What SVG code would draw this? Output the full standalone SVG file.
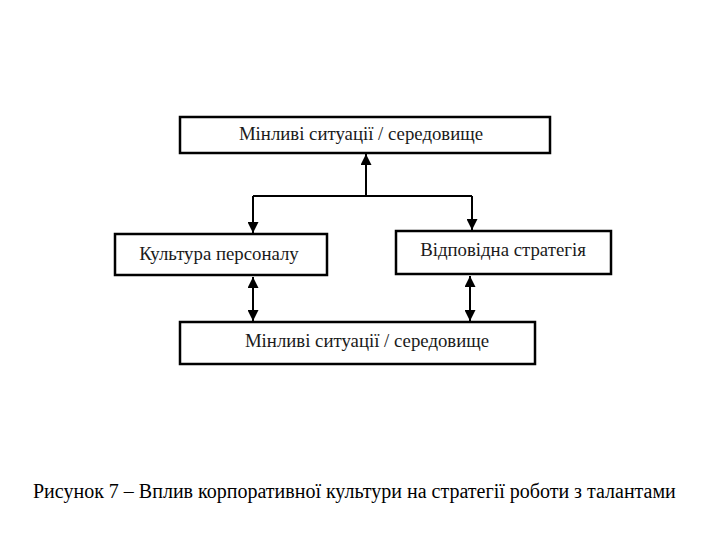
<svg xmlns="http://www.w3.org/2000/svg" width="720" height="540" viewBox="0 0 720 540">
<style>
.box{fill:#fff;stroke:#000;stroke-width:2.5}
.lbl{font-family:"Liberation Serif","Times New Roman",serif;font-size:18.8px;fill:#1a1a1a;text-anchor:middle}
.cap{font-family:"Liberation Serif","Times New Roman",serif;font-size:20px;fill:#000}
.con{stroke:#000;stroke-width:2;fill:none}
</style>
<defs>
<marker id="ah" viewBox="0 0 10 10" refX="10" refY="5" markerWidth="5.5" markerHeight="5.5" orient="auto-start-reverse" markerUnits="strokeWidth">
<path d="M0,0 L10,5 L0,10 Z" fill="#000"/>
</marker>
</defs>
<rect width="720" height="540" fill="#fff"/>
<g id="connectors">
<path class="con" d="M366,196 V154" marker-end="url(#ah)"/>
<path class="con" d="M253,196 H472"/>
<path class="con" d="M253,196 V233" marker-end="url(#ah)"/>
<path class="con" d="M472,196 V230" marker-end="url(#ah)"/>
<path class="con" d="M253,277 V321" marker-start="url(#ah)" marker-end="url(#ah)"/>
<path class="con" d="M470,276 V321" marker-start="url(#ah)" marker-end="url(#ah)"/>
</g>
<g id="top">
<rect class="box" x="180" y="117" width="370" height="36"/>
<text class="lbl" x="361" y="140">Мінливі ситуації / середовище</text>
</g>
<g id="culture">
<rect class="box" x="115" y="234" width="212" height="41"/>
<text class="lbl" x="219" y="260">Культура персоналу</text>
</g>
<g id="strategy">
<rect class="box" x="396" y="231" width="215" height="43"/>
<text class="lbl" x="503" y="256">Відповідна стратегія</text>
</g>
<g id="bottom">
<rect class="box" x="180" y="322" width="355" height="42"/>
<text class="lbl" x="367" y="347">Мінливі ситуації / середовище</text>
</g>
<text class="cap" x="33" y="498">Рисунок 7 – Вплив корпоративної культури на стратегії роботи з талантами</text>
</svg>
